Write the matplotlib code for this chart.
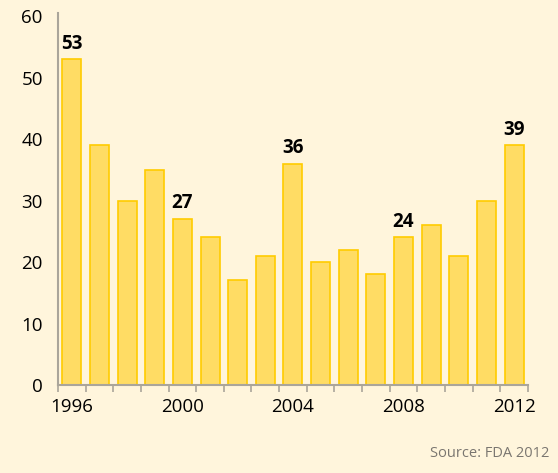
import matplotlib.pyplot as plt
import numpy as np

plt.rcParams['font.family'] = ['Open Sans', 'DejaVu Sans']

years = list(range(1996, 2013))
approvals = [53, 39, 30, 35, 27, 24, 17, 21, 36, 20, 22, 18, 24, 26, 21, 30, 39]
labelled_years = [1996, 2000, 2004, 2008, 2012]
tick_years = [1996, 2000, 2004, 2008, 2012]

bg = '#fff5dc'
x = np.arange(len(years))

fig = plt.figure(figsize=(5.58, 4.73), dpi=100, facecolor=bg)
ax = fig.add_axes([0.104, 0.186, 0.842, 0.780], facecolor=bg)

ax.bar(x, approvals, width=0.69, color='#ffdc64', edgecolor='#ffcc00', linewidth=1.2)

# value labels on selected bars
for yr in labelled_years:
    i = years.index(yr)
    ax.text(i, approvals[i] + 0.9, str(approvals[i]), ha='center', va='bottom',
            fontsize=13.5, fontweight='bold', color='black')

ax.set_xlim(-0.5, len(years) - 0.5)
ax.set_ylim(0, 60)
ax.set_yticks(range(0, 61, 10))

ax.set_xticks([years.index(y) for y in tick_years])
ax.set_xticklabels([str(y) for y in tick_years])
ax.set_xticks(np.arange(-0.5, len(years), 1), minor=True)
ax.tick_params(axis='x', which='major', length=0, pad=9, labelsize=13.5)
ax.tick_params(axis='x', which='minor', length=5, width=1.2, color='#aaa59a')
ax.tick_params(axis='y', length=0, pad=11, labelsize=13.5)

for s in ['top', 'right']:
    ax.spines[s].set_visible(False)
for s in ['left', 'bottom']:
    ax.spines[s].set_color('#aaa59a')
    ax.spines[s].set_linewidth(1.5)
ax.spines['left'].set_bounds(0, 60.5)

fig.text(0.985, 0.025, 'Source: FDA 2012', ha='right', va='bottom',
         fontsize=10.5, color='#7a7670')

plt.savefig('out.png', dpi=100, facecolor=bg)
plt.close()
